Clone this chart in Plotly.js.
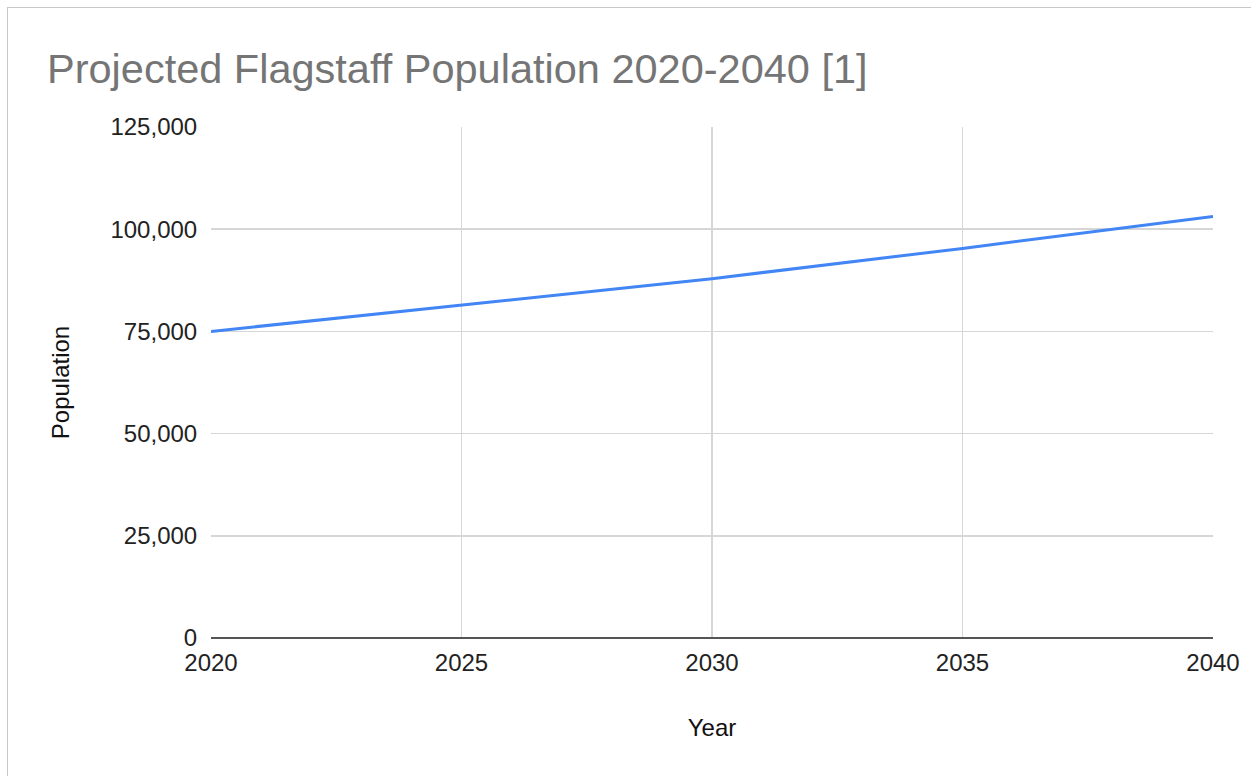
<!DOCTYPE html>
<html>
<head>
<meta charset="utf-8">
<script src="https://cdn.plot.ly/plotly-3.0.1.min.js"></script>
<style>
html,body{margin:0;padding:0;background:#fff;}
#frame{position:absolute;left:7px;top:7px;width:1260px;height:790px;border-top:1px solid #c8c8c8;border-left:1px solid #c8c8c8;}
#chart{position:absolute;left:0;top:0;width:1251px;height:776px;}
</style>
</head>
<body>
<div id="frame"></div>
<div id="chart"></div>
<script>
const years = [2020, 2025, 2030, 2035, 2040];
const population = [75000, 81500, 87900, 95300, 103100];
const yTicks = [0, 25000, 50000, 75000, 100000, 125000];
const yTickLabels = ["0", "25,000", "50,000", "75,000", "100,000", "125,000"];
const xTicks = [2020, 2025, 2030, 2035, 2040];

const font = "Liberation Sans, Arial, sans-serif";

Plotly.newPlot('chart', [{
  x: years,
  y: population,
  type: 'scatter',
  mode: 'lines',
  line: {color: '#4285F4', width: 3},
  hoverinfo: 'x+y'
}], {
  width: 1251,
  height: 776,
  paper_bgcolor: 'rgba(0,0,0,0)',
  plot_bgcolor: '#fff',
  margin: {l: 211, r: 38, t: 127, b: 138},
  showlegend: false,
  title: {
    text: 'Projected Flagstaff Population 2020-2040 [1]',
    font: {family: font, size: 41.5, color: '#757575'},
    x: 47/1251, xanchor: 'left', xref: 'container',
    y: 1 - 68/776, yanchor: 'middle', yref: 'container'
  },
  xaxis: {
    range: [2020, 2040],
    tickvals: xTicks,
    ticktext: xTicks.map(String),
    showgrid: true,
    gridcolor: '#d6d6d6',
    gridwidth: 1.5,
    zeroline: false,
    showline: false,
    ticks: 'outside', ticklen: 3, tickcolor: 'rgba(0,0,0,0)',
    tickfont: {family: font, size: 24, color: '#222'},
    title: {text: 'Year', font: {family: font, size: 24, color: '#111'}, standoff: 44}
  },
  yaxis: {
    range: [0, 125000],
    tickvals: yTicks,
    ticktext: yTickLabels,
    showgrid: true,
    gridcolor: '#d6d6d6',
    gridwidth: 1.5,
    zeroline: true,
    zerolinecolor: '#555555',
    zerolinewidth: 2.5,
    showline: false,
    ticks: 'outside', ticklen: 8, tickcolor: 'rgba(0,0,0,0)',
    tickfont: {family: font, size: 24, color: '#222'},
    title: {text: 'Population', font: {family: font, size: 24, color: '#111'}, standoff: 34}
  }
}, {displayModeBar: false, staticPlot: true});
</script>
</body>
</html>
